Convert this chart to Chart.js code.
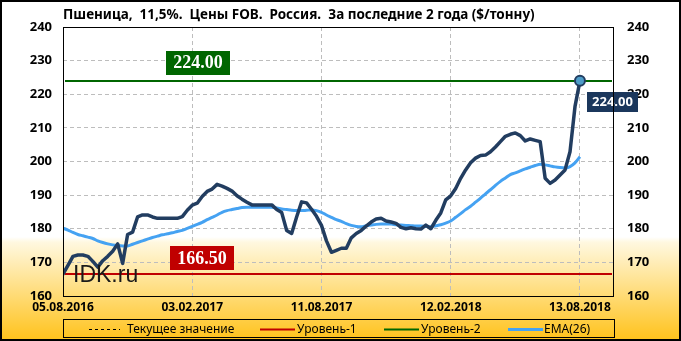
<!DOCTYPE html>
<html><head><meta charset="utf-8">
<script src="https://cdn.jsdelivr.net/npm/chart.js@4/dist/chart.umd.min.js"></script>
<style>html,body{margin:0;padding:0;background:#fff;}canvas{display:block;}</style>
</head><body>
<canvas id="c" width="681" height="341"></canvas>
<script>
const title = 'Пшеница,  11,5%.  Цены FOB.  Россия.  За последние 2 года ($/тонну)';
const tickLabels = ['05.08.2016','03.02.2017','11.08.2017','12.02.2018','13.08.2018'];
const tickIndex = [0, 26, 52, 78, 104];
const price = [
  166.5,169.1,171.8,172.2,172.2,171.8,170.3,168.6,170.5,171.8,
  173.3,175.5,169.7,178.3,179.0,183.5,184.1,184.1,183.5,183.1,
  183.1,183.1,183.1,183.1,183.6,185.5,187.0,187.6,189.6,191.1,
  191.8,193.2,192.7,192.0,191.2,189.8,188.8,187.9,187.1,187.1,
  187.1,187.1,187.1,185.7,184.8,179.5,178.6,183.5,188.0,187.7,
  185.8,183.7,181.0,176.4,173.0,173.6,174.2,174.2,177.3,178.6,
  179.5,180.8,182.0,182.9,183.1,182.3,182.0,181.6,180.4,180.0,
  180.3,180.0,179.9,181.1,180.0,182.5,184.7,188.6,189.8,192.0,
  195.0,197.5,199.6,201.0,201.8,201.9,202.9,204.3,205.9,207.5,
  208.1,208.5,207.7,206.1,206.7,206.3,205.9,195.0,193.5,194.5,
  196.0,197.5,202.9,216.3,224.0
];
const ema = [
  180.2,179.6,178.9,178.3,177.9,177.5,177.1,176.4,175.9,175.5,
  175.2,175.0,174.9,174.9,175.4,175.9,176.4,176.9,177.4,177.8,
  178.2,178.5,178.8,179.2,179.5,180.1,180.7,181.3,181.9,182.7,
  183.4,184.1,184.9,185.4,185.7,186.0,186.3,186.4,186.4,186.4,
  186.4,186.4,186.4,186.2,185.9,185.7,185.5,185.4,185.4,185.5,
  185.6,185.4,184.9,184.1,183.4,182.7,182.2,181.5,181.0,180.7,
  180.6,180.9,181.1,181.3,181.4,181.4,181.4,181.2,181.1,181.0,
  180.9,180.8,180.8,180.7,180.6,180.9,181.2,181.7,182.3,183.4,
  184.5,185.7,186.7,187.9,189.1,190.4,191.6,192.9,194.1,195.1,
  196.1,196.6,197.2,197.8,198.3,198.8,199.2,199.0,198.7,198.4,
  198.2,198.1,198.5,199.6,201.4
];
const currentValue = 224.00;
const level1 = 166.50;
const level2 = 224.00;
const legendLabels = ['Текущее значение', 'Уровень-1', 'Уровень-2', 'EMA(26)'];
const yTicksMin = 160, yTicksMax = 240, yStep = 10;

const SANS = '"Noto Sans", "Open Sans", sans-serif';
const colPrice = '#223D60', colEma = '#45A2F2', colL1 = '#C00000', colL2 = '#006600', colNavy = '#1B375C';

const deco = {
  id: 'deco',
  beforeDraw(c) {
    const g = c.ctx, W = c.width, H = c.height;
    const gr = g.createLinearGradient(0, 0, 0, H);
    gr.addColorStop(0, '#ffffff');
    gr.addColorStop(0.695, '#ffffff');
    gr.addColorStop(0.71, '#FFF8E0');
    gr.addColorStop(1, '#FFC21A');
    g.save(); g.fillStyle = gr; g.fillRect(0, 0, W, H); g.restore();
  },
  beforeDatasetsDraw(c) {
    const g = c.ctx, a = c.chartArea, y = c.scales.y;
    const line = (v, col, w, dash) => {
      const py = Math.round(y.getPixelForValue(v));
      g.save(); g.strokeStyle = col; g.lineWidth = w; g.setLineDash(dash || []);
      g.beginPath(); g.moveTo(a.left + 2, py); g.lineTo(a.right - 2, py); g.stroke(); g.restore();
    };
    line(currentValue, '#000', 1, [3, 3]);
    line(level1, colL1, 2);
    line(level2, colL2, 2);
  },
  afterDatasetsDraw(c) {
    const g = c.ctx, a = c.chartArea, y = c.scales.y;
    // watermark
    g.save();
    g.font = '23px "Liberation Sans", Arial, sans-serif';
    g.fillStyle = '#1a1a1a'; g.textBaseline = 'alphabetic'; g.textAlign = 'left';
    g.fillText('IDK.ru', a.left + 10, 282);
    g.restore();
    const box = (cx, bottom, w, h, col, txt, font) => {
      g.save(); g.fillStyle = col; g.fillRect(Math.round(cx - w / 2), Math.round(bottom - h), w, h);
      g.fillStyle = '#fff'; g.font = font; g.textAlign = 'center'; g.textBaseline = 'middle';
      g.fillText(txt, cx, bottom - h / 2 + 1); g.restore();
    };
    const serif = 'bold 18px "Liberation Serif", "DejaVu Serif", serif';
    box(a.left + 135, y.getPixelForValue(level2) - 6, 64, 24, colL2, level2.toFixed(2), serif);
    box(a.left + 139, y.getPixelForValue(level1) - 4, 64, 24, colL1, level1.toFixed(2), serif);
    // last value box
    const meta = c.getDatasetMeta(0);
    const pt = meta.data[meta.data.length - 1];
    const last = price[price.length - 1];
    g.save();
    g.fillStyle = colNavy; g.fillRect(Math.round(pt.x + 7), Math.round(pt.y + 11), 51, 20);
    g.fillStyle = '#fff'; g.font = 'bold 13px ' + SANS; g.textAlign = 'center'; g.textBaseline = 'middle';
    g.fillText(last.toFixed(2), pt.x + 7 + 25.5, pt.y + 21.5);
    g.restore();
  },
  afterDraw(c) {
    const g = c.ctx, a = c.chartArea, W = c.width, H = c.height;
    g.save();
    // plot frame
    g.strokeStyle = '#000'; g.lineWidth = 1;
    g.strokeRect(Math.round(a.left) + 0.5, Math.round(a.top) + 0.5, Math.round(a.right - a.left) - 1, Math.round(a.bottom - a.top));
    // title
    let fs = 13;
    g.font = 'bold ' + fs + 'px ' + SANS;
    const tw = g.measureText(title).width;
    fs = fs * 472 / tw;
    g.font = 'bold ' + fs.toFixed(2) + 'px ' + SANS;
    g.fillStyle = '#000'; g.textAlign = 'left'; g.textBaseline = 'alphabetic';
    g.fillText(title, 63, 18.5);
    // legend
    g.strokeStyle = '#000'; g.lineWidth = 1;
    g.strokeRect(63.5, 319.5, 551, 18);
    const ly = 329;
    const samples = [
      {x: 89, w: 31, col: '#000', lw: 1, dash: [3, 3], tx: 127},
      {x: 260, w: 35, col: colL1, lw: 2, dash: [], tx: 297},
      {x: 384, w: 35, col: colL2, lw: 2, dash: [], tx: 421},
      {x: 508, w: 35, col: colEma, lw: 3, dash: [], tx: 544}
    ];
    g.font = '12px ' + SANS; g.textBaseline = 'middle';
    samples.forEach((s, i) => {
      g.save(); g.strokeStyle = s.col; g.lineWidth = s.lw; g.setLineDash(s.dash);
      g.beginPath(); g.moveTo(s.x, ly + 0.5); g.lineTo(s.x + s.w, ly + 0.5); g.stroke(); g.restore();
      g.fillStyle = '#000'; g.fillText(legendLabels[i], s.tx, ly + 1);
    });
    // outer border
    g.lineWidth = 2; g.strokeStyle = '#000';
    g.strokeRect(1, 1, W - 2, H - 2);
    g.restore();
  }
};

const tickFont = {family: SANS, size: 13, weight: 'bold'};
new Chart(document.getElementById('c'), {
  type: 'line',
  data: {
    datasets: [
      {
        label: 'Цена', data: price.map((v, i) => ({x: i, y: v})),
        borderColor: colPrice, borderWidth: 3.5, tension: 0,
        borderJoinStyle: 'round', borderCapStyle: 'round',
        pointRadius: price.map((v, i) => i === price.length - 1 ? 5 : 0),
        pointBackgroundColor: '#4E9CC8', pointBorderColor: colPrice, pointBorderWidth: 2,
        order: 0
      },
      {
        label: legendLabels[3], data: ema.map((v, i) => ({x: i, y: v})),
        borderColor: colEma, borderWidth: 3, tension: 0.4, cubicInterpolationMode: 'monotone',
        pointRadius: 0, order: 1
      }
    ]
  },
  options: {
    responsive: false, animation: false,
    layout: {padding: {top: 27, left: 0, right: 0, bottom: 0}},
    plugins: {legend: {display: false}, tooltip: {enabled: false}},
    scales: {
      x: {
        type: 'linear', min: 0, max: 110.85,
        afterBuildTicks: s => { s.ticks = tickIndex.map(v => ({value: v})); },
        afterFit: s => { s.height = 45; },
        ticks: {
          callback: v => tickLabels[tickIndex.indexOf(v)] || '',
          font: {family: SANS, size: 12, weight: 'bold'}, color: '#000',
          padding: 4, maxRotation: 0, autoSkip: false
        },
        grid: {color: '#BDBDBD', drawTicks: false, lineWidth: 1},
        border: {display: false, dash: [4, 3]}
      },
      y: {
        position: 'left', min: yTicksMin, max: yTicksMax,
        afterFit: s => { s.width = 63; },
        ticks: {stepSize: yStep, font: tickFont, color: '#000', padding: 11},
        grid: {color: '#BDBDBD', drawTicks: false, lineWidth: 1},
        border: {display: false, dash: [4, 3]}
      },
      y2: {
        position: 'right', min: yTicksMin, max: yTicksMax,
        afterFit: s => { s.width = 67; },
        ticks: {stepSize: yStep, font: tickFont, color: '#000', padding: 13},
        grid: {display: false, drawTicks: false},
        border: {display: false}
      }
    }
  },
  plugins: [deco]
});
</script>
</body></html>
